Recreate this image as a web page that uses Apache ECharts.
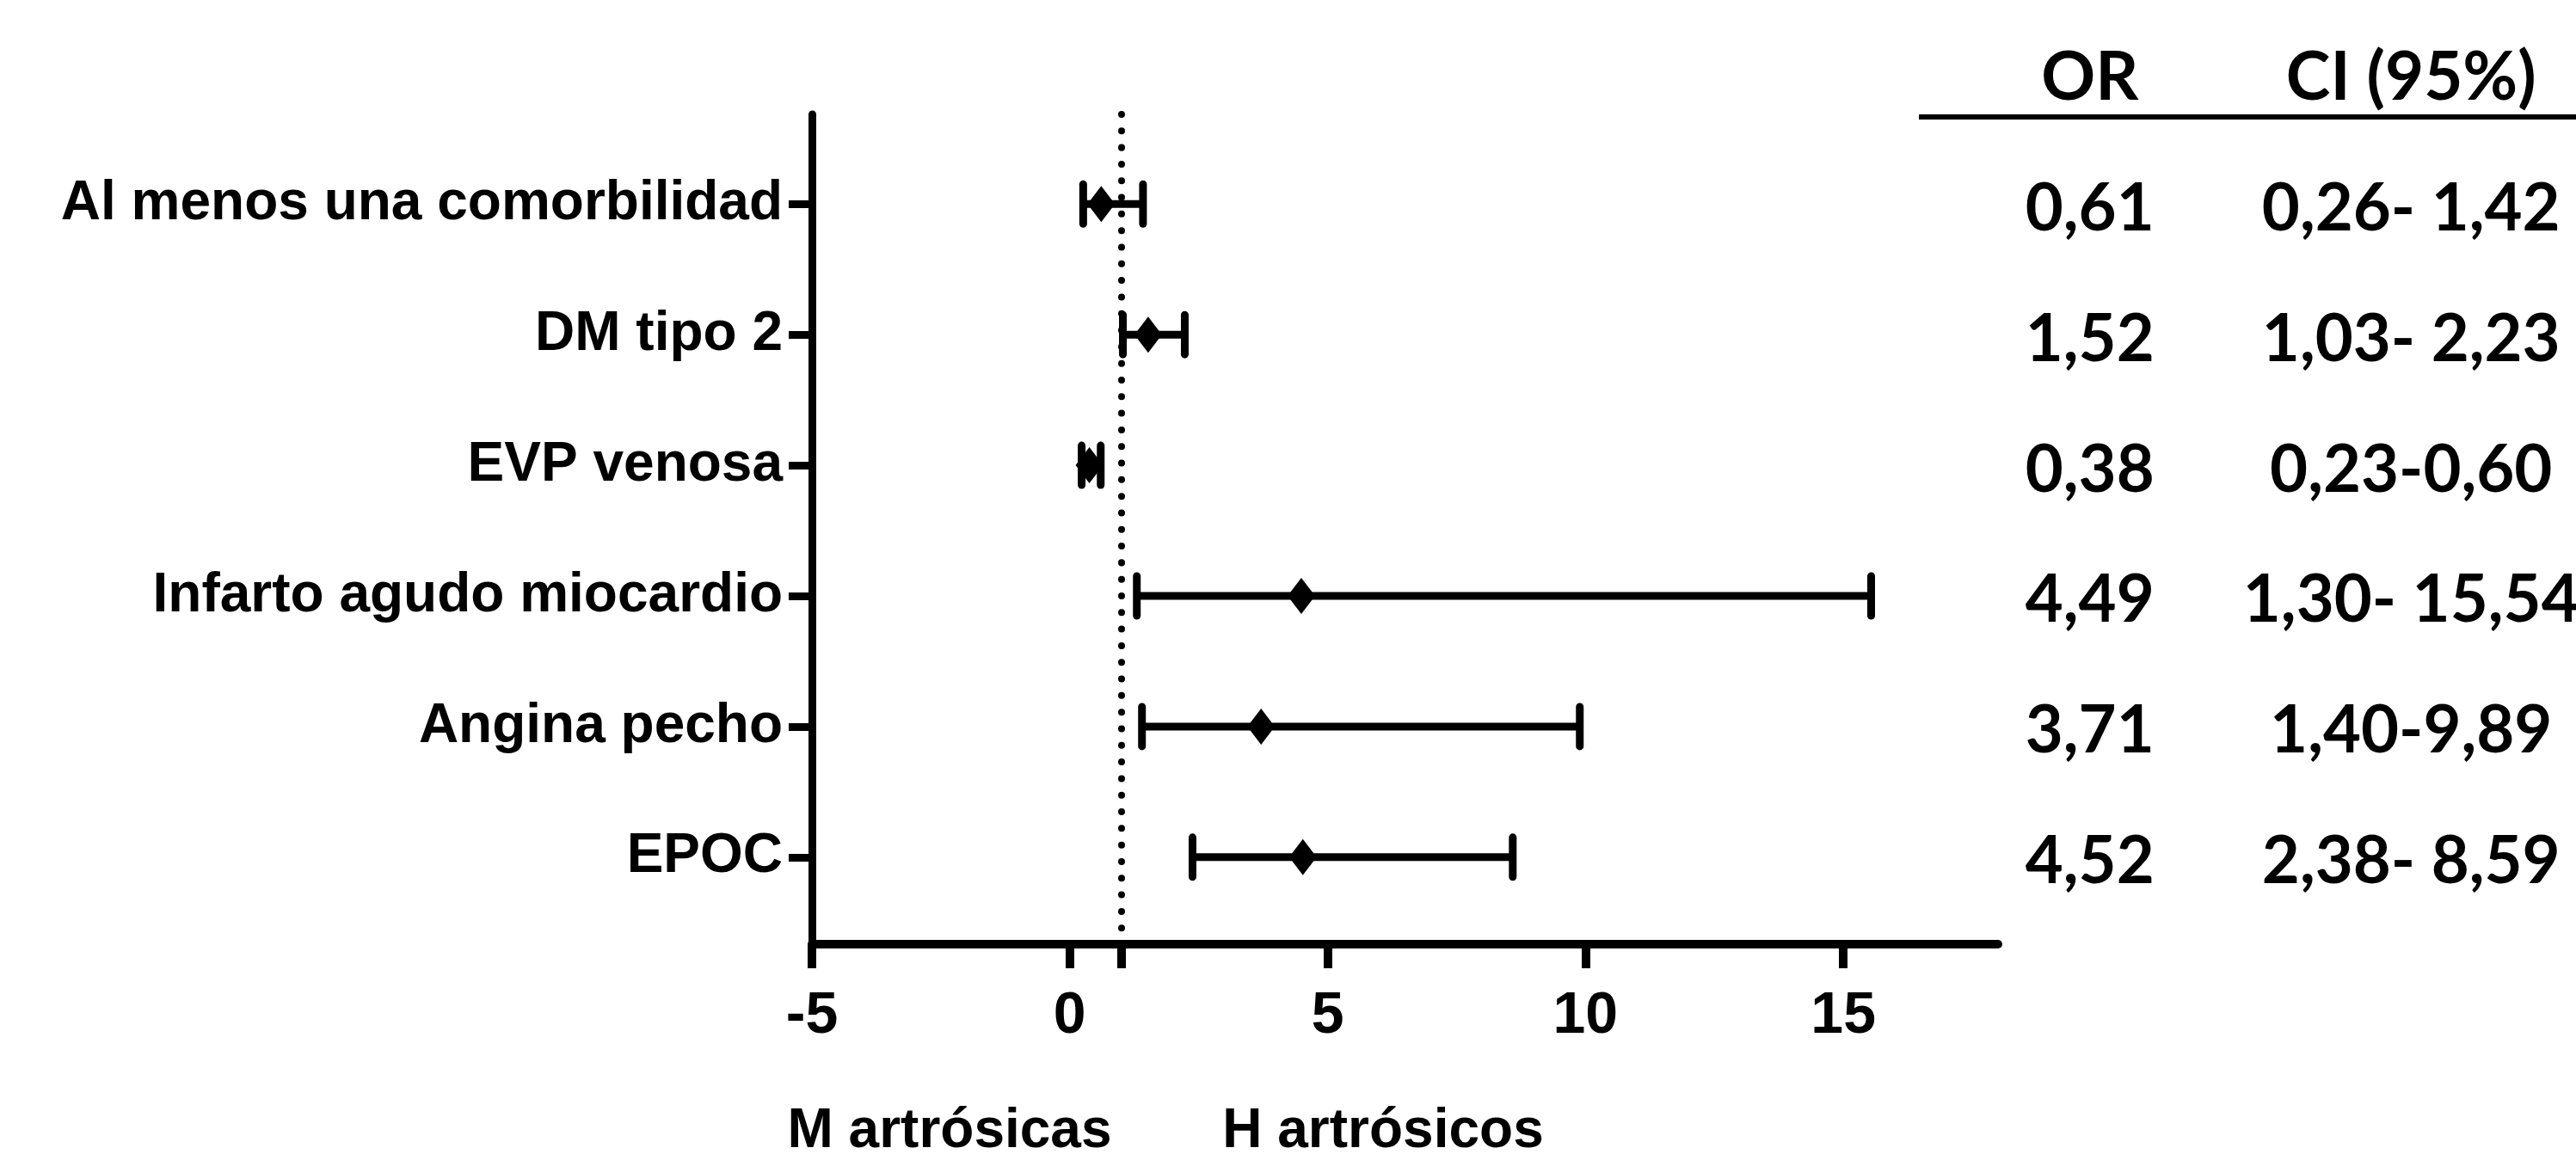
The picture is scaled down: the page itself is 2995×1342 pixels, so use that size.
<!DOCTYPE html>
<html>
<head>
<meta charset="utf-8">
<script src="https://cdn.jsdelivr.net/npm/echarts@6/dist/echarts.min.js"></script>
<style>
html,body{margin:0;padding:0;background:#fff;}
#chart{width:2995px;height:1342px;}
</style>
</head>
<body>
<div id="chart"></div>
<script>
// ---- data ----
const categories = ['Al menos una comorbilidad', 'DM tipo 2', 'EVP venosa', 'Infarto agudo miocardio', 'Angina pecho', 'EPOC'];
const orValues = [0.61, 1.52, 0.38, 4.49, 3.71, 4.52];
const ciLow = [0.26, 1.03, 0.23, 1.30, 1.40, 2.38];
const ciHigh = [1.42, 2.23, 0.60, 15.54, 9.89, 8.59];
const orLabels = ['0,61', '1,52', '0,38', '4,49', '3,71', '4,52'];
const ciLabels = ['0,26- 1,42', '1,03- 2,23', '0,23-0,60', '1,30- 15,54', '1,40-9,89', '2,38- 8,59'];
const tableHeaders = ['OR', 'CI (95%)'];
const xTickLabels = [-5, 0, 5, 10, 15];
const xTickMarks = [-5, 0, 1, 5, 10, 15];
const referenceValue = 1;
const sideLabels = ['M artrósicas', 'H artrósicos'];

// ---- styles ----
const LEFT_FONT = "'Liberation Sans', Arial, sans-serif";
const TABLE_FONT = "Lato, 'Open Sans', sans-serif";
const LEFT_SIZE = 64;
const TABLE_SIZE = 76;
const rowIdx = categories.map((c, i) => i + 1);

const chart = echarts.init(document.getElementById('chart'), null, {renderer: 'canvas'});

const option = {
  backgroundColor: '#ffffff',
  animation: false,
  grid: [
    {left: 944, right: 672, top: 133, bottom: 244, containLabel: false, outerBoundsMode: 'none'},
    {left: 2243, right: 5, top: 136, bottom: 244, containLabel: false, outerBoundsMode: 'none'}
  ],
  xAxis: [
    {
      gridIndex: 0, type: 'value', min: -5, max: 18,
      axisLine: {show: true, onZero: false, lineStyle: {color: '#000', width: 10}},
      axisTick: {show: true, length: 28, customValues: xTickMarks, lineStyle: {color: '#000', width: 10}},
      axisLabel: {show: true, customValues: xTickLabels, margin: 50, color: '#000',
        fontFamily: LEFT_FONT, fontWeight: 'bold', fontSize: 68},
      splitLine: {show: false}
    },
    {
      gridIndex: 1, type: 'category', position: 'top', data: tableHeaders,
      axisLine: {show: false}, axisTick: {show: false},
      axisLabel: {show: true, interval: 0, hideOverlap: false, margin: 6, color: '#000',
        fontFamily: TABLE_FONT, fontWeight: 'bold', fontSize: 78},
      splitLine: {show: false}
    }
  ],
  yAxis: [
    {
      gridIndex: 0, type: 'value', inverse: true, min: 0.314, max: 6.666,
      axisLine: {show: true, onZero: false, lineStyle: {color: '#000', width: 9}},
      axisTick: {show: true, length: 27, customValues: rowIdx, lineStyle: {color: '#000', width: 9}},
      axisLabel: {show: true, customValues: rowIdx, margin: 34, color: '#000',
        fontFamily: LEFT_FONT, fontWeight: 'bold', fontSize: LEFT_SIZE,
        formatter: v => categories[Math.round(v) - 1] || ''},
      splitLine: {show: false}
    },
    {
      gridIndex: 1, type: 'value', inverse: true, min: 0.334, max: 6.666, show: false
    }
  ],
  series: [
    {
      type: 'custom', xAxisIndex: 0, yAxisIndex: 0, z: 3,
      encode: {x: [1, 2], y: 0},
      data: rowIdx.map((r, i) => [r, ciLow[i], ciHigh[i]]),
      renderItem: function (params, api) {
        const r = api.value(0);
        const lo = api.coord([api.value(1), r]);
        const hi = api.coord([api.value(2), r]);
        const capH = 23;
        const st = {stroke: '#000', lineWidth: 9, lineCap: 'round'};
        return {
          type: 'group',
          children: [
            {type: 'line', shape: {x1: lo[0], y1: lo[1], x2: hi[0], y2: hi[1]}, style: {stroke: '#000', lineWidth: 9}},
            {type: 'line', shape: {x1: lo[0], y1: lo[1] - capH, x2: lo[0], y2: lo[1] + capH}, style: st},
            {type: 'line', shape: {x1: hi[0], y1: hi[1] - capH, x2: hi[0], y2: hi[1] + capH}, style: st}
          ]
        };
      }
    },
    {
      type: 'scatter', xAxisIndex: 0, yAxisIndex: 0, z: 4,
      symbol: 'diamond', symbolSize: [32, 42],
      itemStyle: {color: '#000', opacity: 1},
      data: rowIdx.map((r, i) => [orValues[i], r]),
      markLine: {
        silent: true, symbol: ['none', 'none'], label: {show: false},
        lineStyle: {color: '#000', width: 8, type: [0.01, 19.3], cap: 'round', opacity: 1},
        data: [{xAxis: referenceValue}]
      }
    },
    {
      type: 'custom', xAxisIndex: 1, yAxisIndex: 1, z: 5,
      encode: {x: 0, y: 1},
      data: rowIdx.map((r, i) => [0, r, i]).concat(rowIdx.map((r, i) => [1, r, i])),
      renderItem: function (params, api) {
        const col = api.value(0);
        const i = api.value(2);
        const p = api.coord([col, api.value(1)]);
        return {
          type: 'text', x: p[0], y: p[1] + 6,
          style: {
            text: col === 0 ? orLabels[i] : ciLabels[i],
            fill: '#000', align: 'center', verticalAlign: 'middle',
            font: 'bold ' + TABLE_SIZE + 'px ' + TABLE_FONT
          }
        };
      }
    }
  ],
  graphic: [
    {type: 'line', shape: {x1: 2231, y1: 136, x2: 2995, y2: 136}, style: {stroke: '#000', lineWidth: 6}},
    {type: 'text', x: 1104, y: 1316, style: {text: sideLabels[0], fill: '#000', align: 'center', verticalAlign: 'middle',
      font: "bold " + LEFT_SIZE + "px " + LEFT_FONT}},
    {type: 'text', x: 1608, y: 1316, style: {text: sideLabels[1], fill: '#000', align: 'center', verticalAlign: 'middle',
      font: "bold " + LEFT_SIZE + "px " + LEFT_FONT}}
  ]
};
chart.setOption(option);
</script>
</body>
</html>
